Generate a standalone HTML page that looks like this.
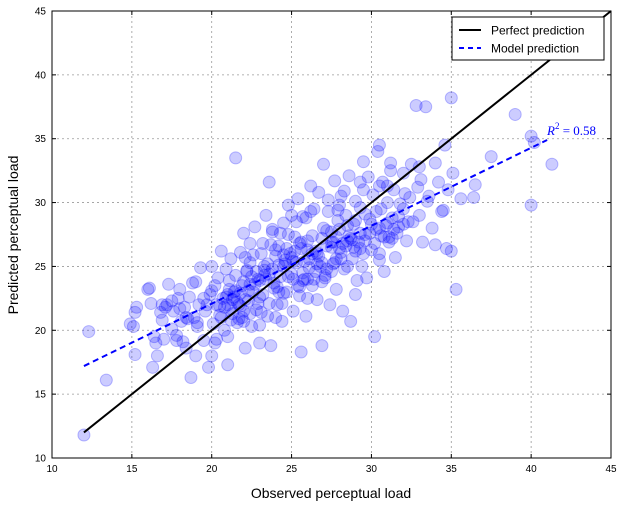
<!DOCTYPE html>
<html><head><meta charset="utf-8"><style>
body{margin:0;background:#fff;}
svg{display:block;font-family:"Liberation Sans",sans-serif;}
</style></head><body>
<svg id="chart" width="623" height="507" viewBox="0 0 623 507" xmlns="http://www.w3.org/2000/svg">
<g id="grid"></g>
<g id="pts"></g>
<g id="lines"></g>
<rect x="52" y="11" width="559" height="447" fill="none" stroke="#000" stroke-width="1"/>
<g id="ticks" font-size="10"></g>
<text x="331" y="498" font-size="14" text-anchor="middle">Observed perceptual load</text>
<text transform="translate(18,235) rotate(-90)" font-size="14" text-anchor="middle">Predicted perceptual load</text>
<text x="547" y="135" font-size="13" fill="#0000ff" font-family="Liberation Serif,serif" font-style="italic">R<tspan dy="-6" font-size="9" font-style="normal">2</tspan><tspan dy="6" font-style="normal"> = 0.58</tspan></text>
<g>
<rect x="452" y="17" width="152" height="43" fill="#fff" stroke="#000" stroke-width="1"/>
<line x1="459" y1="30" x2="481" y2="30" stroke="#000" stroke-width="2"/>
<text x="491" y="34.5" font-size="12">Perfect prediction</text>
<line x1="459" y1="48" x2="481" y2="48" stroke="#0000ff" stroke-width="2" stroke-dasharray="5,4"/>
<text x="491" y="52.5" font-size="12">Model prediction</text>
</g>
</svg>
<script>
const xTicks=[10,15,20,25,30,35,40,45];
const yTicks=[10,15,20,25,30,35,40,45];
const perfectLine=[[12,12],[45,45]];
const modelLine=[[12,17.2],[41,34.9]];
const obs=[12,12.3,13.4,14.9,15.1,15.2,15.3,15.2,16,16.1,16.2,16.3,16.4,16.6,16.8,16.9,17,17.1,17.2,17.3,17.5,17.6,17.8,17.9,18,18.1,18.2,18.3,18.4,18.5,18.6,18.7,18.8,18.9,19,19.1,19.2,19.3,19.5,19.6,19.8,19.9,20,20,20.1,20.2,20.3,20.4,20.5,20.6,20.7,20.8,20.9,21,21,21.1,21.2,21.3,21.4,21.5,21.5,21.6,21.7,21.8,21.9,22,22,22.1,22.2,22.3,22.4,22.5,22.6,22.7,22.8,22.9,23,23.1,23.2,23.3,23.4,23.5,23.6,23.6,23.7,23.8,23.9,24,24.1,24.2,24.3,24.4,24.5,24.6,24.7,24.8,24.9,25,25.1,25.2,25.3,25.4,25.5,25.6,25.6,25.7,25.8,25.9,26,26.1,26.2,26.3,26.4,26.5,26.6,26.7,26.8,26.9,27,27.1,27.2,27.3,27.4,27.5,27.6,27.7,27.8,27.9,28,28.1,28.2,28.3,28.4,28.5,28.6,28.7,28.8,28.9,29,29.1,29.2,29.3,29.4,29.5,29.6,29.7,29.8,29.9,30,30.1,30.2,30.3,30.4,30.5,30.6,30.7,30.8,30.9,31,31.1,31.2,31.3,31.4,31.5,31.6,31.8,32,32.2,32.4,32.6,32.8,32.9,33,33.2,33.4,33.6,33.8,34,34,34.2,34.4,34.6,34.7,34.8,35,35,35.1,35.3,35.6,36.4,36.5,37.5,39,40,40,41.3,40.2,
20.5,20.8,21,21.2,21.4,21.6,21.8,22,22.3,22.5,22.8,23,23.3,23.5,23.8,24,24.2,24.5,24.7,25,25.2,25.5,25.8,26,26.3,26.6,26.9,27.2,27.5,27.8,28,28.2,28.5,28.8,29,29.3,29.6,30,30.3,30.6,31,31.3,31.7,32,22.1,23.2,24.3,25.3,26.2,27.3,28.3,29.3,30.5,24.5,25.5,26.5,27.5,28.5,29.5,30.5,19.5,20,17.5,18,16.9,19,27,28,26,24,23,22,21,20.2,29,31,32.5,33,30.5,31.2,29.5,
21.3,21.9,22.4,22.9,23.4,24.1,24.6,25.1,25.6,26.1,26.7,27.1,27.6,28.1,28.6,22.6,23.7,24.8,25.9,26.9,27.9,21.1,21.7,22.2,23.1,24.4,25.7,
20.3,20.9,21.5,22.1,22.7,23.3,23.9,24.5,25.1,25.7,26.3,26.9,27.5,28.1,28.7,29.3,29.9,30.5,31.1,31.7,32.3,20.6,21.2,21.8,22.4,23,23.6,24.2,24.8,25.4,26,26.6,27.2,27.8,28.4,29,29.6,30.2,30.8,31.4,32,33.5,34.5,33.1,32.1,17.8,18.4,19.1,19.7,16.5,22.4,23.8,25,26.4,27.7,28.9];
const pred=[11.8,19.9,16.1,20.5,20.3,21.4,21.8,18.1,23.2,23.3,22.1,17.1,19.5,18.0,21.4,20.8,19.3,21.8,22.0,23.6,20.1,21.5,19.2,22.5,23.2,20.7,19.1,21.8,18.6,20.9,22.6,16.3,23.7,21.0,18.0,20.6,22.0,24.9,19.2,21.5,17.1,22.8,25.0,18.0,20.5,23.5,19.3,24.1,21.9,26.2,22.5,20.0,24.8,17.3,22.0,23.2,25.6,21.3,22.6,33.5,24.3,20.6,22.0,26.1,23.5,21.5,27.6,18.6,24.7,22.3,25.3,20.3,23.0,28.1,21.6,24.0,19.0,26.0,22.8,25.0,29.0,21.1,31.6,24.4,18.8,27.7,23.3,25.8,22.0,26.6,24.2,20.7,28.4,25.2,23.0,29.8,26.0,24.4,21.5,27.3,25.3,30.3,22.7,18.3,26.4,28.9,24.0,21.1,27.0,25.6,31.3,23.5,29.5,26.2,22.4,30.8,25.0,18.8,28.0,24.3,26.6,29.3,22.0,27.7,25.2,31.7,23.2,28.6,26.4,30.5,21.5,24.8,29.0,27.0,32.1,20.7,25.6,28.3,30.1,23.9,26.9,29.6,25.0,31.0,27.5,24.1,32.0,28.7,26.3,30.6,19.5,27.9,34.0,25.5,29.5,31.6,24.6,28.2,30.0,26.9,33.1,28.8,31.0,25.7,27.6,29.9,32.3,27.0,30.4,28.5,37.6,31.2,29.0,26.9,37.5,30.5,28.0,33.1,26.7,31.6,29.3,34.5,26.4,31.0,38.2,26.2,32.3,23.2,30.3,30.4,31.4,33.6,36.9,35.2,29.8,33.0,34.7,
21.2,21.8,22.8,21.7,23.0,22.2,22.9,23.8,23.1,24.2,24.6,23.9,24.7,25.2,24.8,26.3,25.1,25.9,26.4,25.7,26.2,26.8,25.4,26.3,27.4,26.0,27.2,27.8,26.5,27.3,27.9,26.8,28.2,27.1,28.6,27.6,29.1,28.3,29.3,27.4,28.4,27.2,28.1,29.5,25.7,26.8,27.6,28.5,29.3,30.2,30.9,31.6,31.3,22.9,23.4,24.6,24.6,25.0,26.0,26.0,22.5,23.1,22.3,21.7,22.0,23.8,33.0,29.8,22.5,21.0,20.4,20.7,19.5,19.0,22.8,31.3,33.0,32.8,34.5,32.5,33.2,
22.4,21.0,23.6,22.1,24.0,23.4,25.5,24.0,26.9,24.9,25.8,24.1,26.9,25.6,27.4,25.9,26.7,27.5,28.8,23.8,29.4,23.9,20.9,24.6,21.4,22.1,23.9,
22.0,22.6,23.1,22.4,23.6,24.3,23.7,25.0,25.4,24.5,26.0,25.3,26.9,26.1,27.2,26.4,27.6,28.0,27.3,28.9,28.5,21.0,20.8,21.9,21.3,22.6,22.1,23.0,24.2,23.5,24.0,25.2,24.8,25.6,26.6,26.2,27.0,26.8,27.3,27.9,28.3,30.1,29.4,31.8,30.7,19.6,21.0,20.3,22.0,19.0,26.8,27.9,29.0,24.0,25.3,26.5];
const X0=52,X1=611,Y0=458,Y1=11;
function sx(v){return X0+(v-10)/35*(X1-X0);}
function sy(v){return Y0-(v-10)/35*(Y0-Y1);}
const NS="http://www.w3.org/2000/svg";
function mk(t,a,p){const e=document.createElementNS(NS,t);for(const k in a)e.setAttribute(k,a[k]);p.appendChild(e);return e;}
const grid=document.getElementById('grid'),ticks=document.getElementById('ticks');
xTicks.forEach(t=>{
  if(t>10&&t<45){const g=mk('line',{x1:sx(t),x2:sx(t),y1:Y1,y2:Y0,stroke:'#999','stroke-dasharray':'2,3','stroke-width':0.8},grid);
  
  }
  const tl=mk('text',{x:sx(t),y:Y0+14,'text-anchor':'middle'},ticks);tl.textContent=t;
  
  
  mk('line',{x1:sx(t),x2:sx(t),y1:Y0,y2:Y0-4,stroke:'#000'},ticks);
  mk('line',{x1:sx(t),x2:sx(t),y1:Y1,y2:Y1+4,stroke:'#000'},ticks);
});
yTicks.forEach(t=>{
  if(t>10&&t<45){const g=mk('line',{x1:X0,x2:X1,y1:sy(t),y2:sy(t),stroke:'#999','stroke-dasharray':'2,3','stroke-width':0.8},grid);
  
  }
  const tl=mk('text',{x:X0-6,y:sy(t)+3.5,'text-anchor':'end'},ticks);tl.textContent=t;
  
  
  mk('line',{x1:X0,x2:X0+4,y1:sy(t),y2:sy(t),stroke:'#000'},ticks);
  mk('line',{x1:X1,x2:X1-4,y1:sy(t),y2:sy(t),stroke:'#000'},ticks);
});
const pts=document.getElementById('pts');
obs.forEach((o,i)=>{
  const c=mk('circle',{cx:sx(o),cy:sy(pred[i]),r:6,fill:'rgba(0,0,255,0.2)',stroke:'rgba(0,0,255,0.25)','stroke-width':1},pts);
  
  
});
const lines=document.getElementById('lines');
const pl=mk('line',{x1:sx(perfectLine[0][0]),y1:sy(perfectLine[0][1]),x2:sx(perfectLine[1][0]),y2:sy(perfectLine[1][1]),stroke:'#000','stroke-width':2},lines);


const ml=mk('line',{x1:sx(modelLine[0][0]),y1:sy(modelLine[0][1]),x2:sx(modelLine[1][0]),y2:sy(modelLine[1][1]),stroke:'#0000ff','stroke-width':2,'stroke-dasharray':'6,4'},lines);


</script>
</body></html>
